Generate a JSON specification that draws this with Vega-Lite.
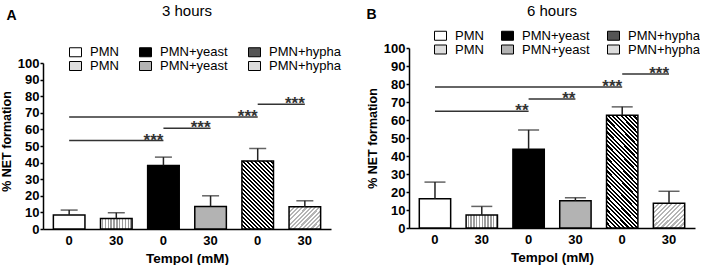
{
 "$schema": "https://vega.github.io/schema/vega-lite/v6.json",
 "padding": {"left": 0, "top": 3, "right": 0, "bottom": 0},
 "background": "white",
 "spacing": 24,
 "bounds": "full",
 "align": "none",
 "resolve": {"scale": {"fill": "independent"}, "legend": {"fill": "independent"}},
 "config": {
  "view": {"stroke": null},
  "font": "Liberation Sans",
  "axis": {"domainColor": "#000", "domainWidth": 1.5, "tickColor": "#000", "tickWidth": 1.5, "labelColor": "#000", "labelFont": "Liberation Sans", "labelFontWeight": "bold", "labelFontSize": 13, "labelOverlap": false, "titleColor": "#000", "titleFont": "Liberation Sans", "titleFontWeight": "bold", "grid": false},
  "legend": {"labelFont": "Liberation Sans", "labelFontSize": 13, "labelColor": "#000", "symbolStrokeColor": "#000", "symbolStrokeWidth": 1, "padding": 0, "rowPadding": -3}
 },
 "hconcat": [
  {
   "width": 288,
   "height": 181,
   "title": {"text": "3 hours", "fontSize": 15, "fontWeight": "normal", "anchor": "middle", "frame": "group", "offset": -11, "color": "#000", "font": "Liberation Sans"},
   "resolve": {"axis": {"x": "independent"}},
   "data": {"values": [
    {"k": "p0", "v": 8.4, "e": 11.4},
    {"k": "p30", "v": 6.4, "e": 9.8},
    {"k": "y0", "v": 38.3, "e": 43.3},
    {"k": "y30", "v": 13.6, "e": 20},
    {"k": "h0", "v": 40.9, "e": 48.5},
    {"k": "h30", "v": 13.4, "e": 17}
   ]},
   "layer": [
    {
     "mark": {"type": "bar", "stroke": "#000", "strokeWidth": 1.5},
     "encoding": {
      "x": {"field": "k", "type": "nominal", "sort": null, "scale": {"domain": ["p0", "p30", "y0", "y30", "h0", "h30"], "paddingInner": 0.33, "paddingOuter": 0.22}, "axis": {"orient": "bottom", "domain": true, "domainColor": "#000", "domainWidth": 1.5, "title": "Tempol (mM)", "labelExpr": "slice(datum.value,1)", "labelAngle": 0, "ticks": false, "tickSize": 0, "labelPadding": 5, "titleFontSize": 13.5, "titlePadding": 4}},
      "y": {"field": "v", "type": "quantitative", "scale": {"domain": [0, 100], "nice": false, "range": [181, 15]}, "axis": {"title": "% NET formation", "domain": true, "values": [0, 10, 20, 30, 40, 50, 60, 70, 80, 90, 100], "labelOverlap": false, "tickSize": 3, "labelPadding": 1, "titleFontSize": 12.5, "titleX": -30, "titleY": 93}},
      "fill": {
       "field": "k", "type": "nominal",
       "scale": {"domain": ["p0", "p30", "y0", "y30", "h0", "h30"], "range": ["#ffffff", "#dedede", "#000000", "#b3b3b3", "#555555", "#dcdcdc"]},
       "legend": {"orient": "none", "legendX": 26, "legendY": -2.5, "columns": 3, "title": null, "symbolType": "M-1,-0.75H1V0.75H-1Z", "symbolSize": 144, "symbolStrokeColor": "#000", "symbolStrokeWidth": 1, "labelOffset": 8, "columnPadding": 18, "rowPadding": -3,
        "labelExpr": "datum.value[0]==='p' ? 'PMN' : (datum.value[0]==='y' ? 'PMN+yeast' : 'PMN+hypha')"
       },
       "condition": [
        {"test": "datum.k==='h0'", "value": {"gradient": "linear", "x1": 0, "y1": 1, "x2": 0.567, "y2": -0.204, "stops": [{"offset":0.02,"color":"#000"},{"offset":0.02,"color":"#fff"},{"offset":0.04,"color":"#fff"},{"offset":0.04,"color":"#000"},{"offset":0.06,"color":"#000"},{"offset":0.06,"color":"#fff"},{"offset":0.08,"color":"#fff"},{"offset":0.08,"color":"#000"},{"offset":0.1,"color":"#000"},{"offset":0.1,"color":"#fff"},{"offset":0.12,"color":"#fff"},{"offset":0.12,"color":"#000"},{"offset":0.14,"color":"#000"},{"offset":0.14,"color":"#fff"},{"offset":0.16,"color":"#fff"},{"offset":0.16,"color":"#000"},{"offset":0.18,"color":"#000"},{"offset":0.18,"color":"#fff"},{"offset":0.2,"color":"#fff"},{"offset":0.2,"color":"#000"},{"offset":0.22,"color":"#000"},{"offset":0.22,"color":"#fff"},{"offset":0.24,"color":"#fff"},{"offset":0.24,"color":"#000"},{"offset":0.26,"color":"#000"},{"offset":0.26,"color":"#fff"},{"offset":0.28,"color":"#fff"},{"offset":0.28,"color":"#000"},{"offset":0.3,"color":"#000"},{"offset":0.3,"color":"#fff"},{"offset":0.32,"color":"#fff"},{"offset":0.32,"color":"#000"},{"offset":0.34,"color":"#000"},{"offset":0.34,"color":"#fff"},{"offset":0.36,"color":"#fff"},{"offset":0.36,"color":"#000"},{"offset":0.38,"color":"#000"},{"offset":0.38,"color":"#fff"},{"offset":0.4,"color":"#fff"},{"offset":0.4,"color":"#000"},{"offset":0.42,"color":"#000"},{"offset":0.42,"color":"#fff"},{"offset":0.44,"color":"#fff"},{"offset":0.44,"color":"#000"},{"offset":0.46,"color":"#000"},{"offset":0.46,"color":"#fff"},{"offset":0.48,"color":"#fff"},{"offset":0.48,"color":"#000"},{"offset":0.5,"color":"#000"},{"offset":0.5,"color":"#fff"},{"offset":0.52,"color":"#fff"},{"offset":0.52,"color":"#000"},{"offset":0.54,"color":"#000"},{"offset":0.54,"color":"#fff"},{"offset":0.56,"color":"#fff"},{"offset":0.56,"color":"#000"},{"offset":0.58,"color":"#000"},{"offset":0.58,"color":"#fff"},{"offset":0.6,"color":"#fff"},{"offset":0.6,"color":"#000"},{"offset":0.62,"color":"#000"},{"offset":0.62,"color":"#fff"},{"offset":0.64,"color":"#fff"},{"offset":0.64,"color":"#000"},{"offset":0.66,"color":"#000"},{"offset":0.66,"color":"#fff"},{"offset":0.68,"color":"#fff"},{"offset":0.68,"color":"#000"},{"offset":0.7,"color":"#000"},{"offset":0.7,"color":"#fff"},{"offset":0.72,"color":"#fff"},{"offset":0.72,"color":"#000"},{"offset":0.74,"color":"#000"},{"offset":0.74,"color":"#fff"},{"offset":0.76,"color":"#fff"},{"offset":0.76,"color":"#000"},{"offset":0.78,"color":"#000"},{"offset":0.78,"color":"#fff"},{"offset":0.8,"color":"#fff"},{"offset":0.8,"color":"#000"},{"offset":0.82,"color":"#000"},{"offset":0.82,"color":"#fff"},{"offset":0.84,"color":"#fff"},{"offset":0.84,"color":"#000"},{"offset":0.86,"color":"#000"},{"offset":0.86,"color":"#fff"},{"offset":0.88,"color":"#fff"},{"offset":0.88,"color":"#000"},{"offset":0.9,"color":"#000"},{"offset":0.9,"color":"#fff"},{"offset":0.92,"color":"#fff"},{"offset":0.92,"color":"#000"},{"offset":0.94,"color":"#000"},{"offset":0.94,"color":"#fff"},{"offset":0.96,"color":"#fff"},{"offset":0.96,"color":"#000"},{"offset":0.98,"color":"#000"},{"offset":0.98,"color":"#fff"}]}},
        {"test": "datum.k==='h30'", "value": {"gradient": "linear", "x1": 0, "y1": 0, "x2": 1.142, "y2": 0.796, "stops": [{"offset":0.04,"color":"#b5b5b5"},{"offset":0.04,"color":"#fff"},{"offset":0.08,"color":"#fff"},{"offset":0.08,"color":"#b5b5b5"},{"offset":0.12,"color":"#b5b5b5"},{"offset":0.12,"color":"#fff"},{"offset":0.16,"color":"#fff"},{"offset":0.16,"color":"#b5b5b5"},{"offset":0.2,"color":"#b5b5b5"},{"offset":0.2,"color":"#fff"},{"offset":0.24,"color":"#fff"},{"offset":0.24,"color":"#b5b5b5"},{"offset":0.28,"color":"#b5b5b5"},{"offset":0.28,"color":"#fff"},{"offset":0.32,"color":"#fff"},{"offset":0.32,"color":"#b5b5b5"},{"offset":0.36,"color":"#b5b5b5"},{"offset":0.36,"color":"#fff"},{"offset":0.4,"color":"#fff"},{"offset":0.4,"color":"#b5b5b5"},{"offset":0.44,"color":"#b5b5b5"},{"offset":0.44,"color":"#fff"},{"offset":0.48,"color":"#fff"},{"offset":0.48,"color":"#b5b5b5"},{"offset":0.52,"color":"#b5b5b5"},{"offset":0.52,"color":"#fff"},{"offset":0.56,"color":"#fff"},{"offset":0.56,"color":"#b5b5b5"},{"offset":0.6,"color":"#b5b5b5"},{"offset":0.6,"color":"#fff"},{"offset":0.64,"color":"#fff"},{"offset":0.64,"color":"#b5b5b5"},{"offset":0.68,"color":"#b5b5b5"},{"offset":0.68,"color":"#fff"},{"offset":0.72,"color":"#fff"},{"offset":0.72,"color":"#b5b5b5"},{"offset":0.76,"color":"#b5b5b5"},{"offset":0.76,"color":"#fff"},{"offset":0.8,"color":"#fff"},{"offset":0.8,"color":"#b5b5b5"},{"offset":0.84,"color":"#b5b5b5"},{"offset":0.84,"color":"#fff"},{"offset":0.88,"color":"#fff"},{"offset":0.88,"color":"#b5b5b5"},{"offset":0.92,"color":"#b5b5b5"},{"offset":0.92,"color":"#fff"},{"offset":0.96,"color":"#fff"},{"offset":0.96,"color":"#b5b5b5"}]}},
        {"test": "datum.k==='p30'", "value": {"gradient": "linear", "x1": 0, "y1": 0, "x2": 1, "y2": 0, "stops": [{"offset":0.045,"color":"#fff"},{"offset":0.045,"color":"#9e9e9e"},{"offset":0.09,"color":"#9e9e9e"},{"offset":0.09,"color":"#fff"},{"offset":0.135,"color":"#fff"},{"offset":0.135,"color":"#9e9e9e"},{"offset":0.18,"color":"#9e9e9e"},{"offset":0.18,"color":"#fff"},{"offset":0.225,"color":"#fff"},{"offset":0.225,"color":"#9e9e9e"},{"offset":0.27,"color":"#9e9e9e"},{"offset":0.27,"color":"#fff"},{"offset":0.315,"color":"#fff"},{"offset":0.315,"color":"#9e9e9e"},{"offset":0.36,"color":"#9e9e9e"},{"offset":0.36,"color":"#fff"},{"offset":0.405,"color":"#fff"},{"offset":0.405,"color":"#9e9e9e"},{"offset":0.45,"color":"#9e9e9e"},{"offset":0.45,"color":"#fff"},{"offset":0.495,"color":"#fff"},{"offset":0.495,"color":"#9e9e9e"},{"offset":0.54,"color":"#9e9e9e"},{"offset":0.54,"color":"#fff"},{"offset":0.585,"color":"#fff"},{"offset":0.585,"color":"#9e9e9e"},{"offset":0.63,"color":"#9e9e9e"},{"offset":0.63,"color":"#fff"},{"offset":0.675,"color":"#fff"},{"offset":0.675,"color":"#9e9e9e"},{"offset":0.72,"color":"#9e9e9e"},{"offset":0.72,"color":"#fff"},{"offset":0.765,"color":"#fff"},{"offset":0.765,"color":"#9e9e9e"},{"offset":0.81,"color":"#9e9e9e"},{"offset":0.81,"color":"#fff"},{"offset":0.855,"color":"#fff"},{"offset":0.855,"color":"#9e9e9e"},{"offset":0.9,"color":"#9e9e9e"},{"offset":0.9,"color":"#fff"},{"offset":0.945,"color":"#fff"},{"offset":0.945,"color":"#9e9e9e"},{"offset":0.99,"color":"#9e9e9e"},{"offset":0.99,"color":"#fff"}]}}
       ]
      }
     }
    },
    {
     "mark": {"type": "rule", "color": "#222", "strokeWidth": 1.5},
     "encoding": {
      "x": {"field": "k", "type": "nominal", "axis": {"orient": "top", "title": "A", "labels": false, "ticks": false, "domain": false, "titleFontSize": 14, "titleFontWeight": "bold", "titleX": -32, "titleY": -29, "titleAlign": "center", "titleBaseline": "alphabetic", "titleAngle": 0}},
      "y": {"field": "v", "type": "quantitative", "axis": {"title": "% NET formation", "domain": true, "values": [0, 10, 20, 30, 40, 50, 60, 70, 80, 90, 100], "labelOverlap": false, "tickSize": 3, "labelPadding": 1, "titleFontSize": 12.5, "titleX": -30, "titleY": 93}},
      "y2": {"field": "e"}
     }
    },
    {
     "mark": {"type": "tick", "color": "#222", "thickness": 1.5, "size": 17},
     "encoding": {
      "x": {"field": "k", "type": "nominal", "axis": null},
      "y": {"field": "e", "type": "quantitative", "axis": {"title": "% NET formation", "domain": true, "values": [0, 10, 20, 30, 40, 50, 60, 70, 80, 90, 100], "labelOverlap": false, "tickSize": 3, "labelPadding": 1, "titleFontSize": 12.5, "titleX": -30, "titleY": 93}}
     }
    },
    {
     "data": {"values": [
      {"from": "p0", "to": "y0", "lvl": 53.3, "stars": "***"},
      {"from": "y0", "to": "y30", "lvl": 60.7, "stars": "***"},
      {"from": "p0", "to": "h0", "lvl": 67.5, "stars": "***"},
      {"from": "h0", "to": "h30", "lvl": 75.2, "stars": "***"}
     ]},
     "mark": {"type": "rule", "color": "#333", "strokeWidth": 1.5},
     "encoding": {
      "x": {"field": "from", "type": "nominal", "axis": null},
      "x2": {"field": "to"},
      "y": {"field": "lvl", "type": "quantitative", "axis": {"title": "% NET formation", "domain": true, "values": [0, 10, 20, 30, 40, 50, 60, 70, 80, 90, 100], "labelOverlap": false, "tickSize": 3, "labelPadding": 1, "titleFontSize": 12.5, "titleX": -30, "titleY": 93}}
     }
    },
    {
     "data": {"values": [
      {"from": "p0", "to": "y0", "lvl": 53.3, "stars": "***"},
      {"from": "y0", "to": "y30", "lvl": 60.7, "stars": "***"},
      {"from": "p0", "to": "h0", "lvl": 67.5, "stars": "***"},
      {"from": "h0", "to": "h30", "lvl": 75.2, "stars": "***"}
     ]},
     "mark": {"type": "text", "align": "right", "baseline": "alphabetic", "dy": 5, "fontSize": 17, "fontWeight": "bold", "color": "#333"},
     "encoding": {
      "x": {"field": "to", "type": "nominal", "axis": null},
      "y": {"field": "lvl", "type": "quantitative", "axis": {"title": "% NET formation", "domain": true, "values": [0, 10, 20, 30, 40, 50, 60, 70, 80, 90, 100], "labelOverlap": false, "tickSize": 3, "labelPadding": 1, "titleFontSize": 12.5, "titleX": -30, "titleY": 93}},
      "text": {"field": "stars"}
     }
    }
   ]
  },
  {
   "width": 286,
   "height": 180,
   "title": {"text": "6 hours", "fontSize": 15, "fontWeight": "normal", "anchor": "middle", "frame": "group", "offset": -11, "color": "#000", "font": "Liberation Sans"},
   "resolve": {"axis": {"x": "independent"}},
   "data": {"values": [
    {"k": "p0", "v": 16.2, "e": 25.5},
    {"k": "p30", "v": 7.2, "e": 12},
    {"k": "y0", "v": 43.8, "e": 54.5},
    {"k": "y30", "v": 15.2, "e": 16.8},
    {"k": "h0", "v": 62.6, "e": 67.3},
    {"k": "h30", "v": 13.7, "e": 20.4}
   ]},
   "layer": [
    {
     "mark": {"type": "bar", "stroke": "#000", "strokeWidth": 1.5},
     "encoding": {
      "x": {"field": "k", "type": "nominal", "sort": null, "scale": {"domain": ["p0", "p30", "y0", "y30", "h0", "h30"], "paddingInner": 0.33, "paddingOuter": 0.22}, "axis": {"orient": "bottom", "domain": true, "domainColor": "#000", "domainWidth": 1.5, "title": "Tempol (mM)", "labelExpr": "slice(datum.value,1)", "labelAngle": 0, "ticks": false, "tickSize": 0, "labelPadding": 5, "titleFontSize": 13.5, "titlePadding": 4}},
      "y": {"field": "v", "type": "quantitative", "scale": {"domain": [0, 100], "nice": false}, "axis": {"title": "% NET formation", "domain": true, "values": [0, 10, 20, 30, 40, 50, 60, 70, 80, 90, 100], "labelOverlap": false, "tickSize": 3, "labelPadding": 1, "titleFontSize": 12.5, "titleX": -30}},
      "fill": {
       "field": "k", "type": "nominal",
       "scale": {"domain": ["p0", "p30", "y0", "y30", "h0", "h30"], "range": ["#ffffff", "#dedede", "#000000", "#b3b3b3", "#555555", "#dcdcdc"]},
       "legend": {"orient": "none", "legendX": 25, "legendY": -19, "columns": 3, "title": null, "symbolType": "M-1,-0.75H1V0.75H-1Z", "symbolSize": 144, "symbolStrokeColor": "#000", "symbolStrokeWidth": 1, "labelOffset": 8, "columnPadding": 15, "rowPadding": -2,
        "labelExpr": "datum.value[0]==='p' ? 'PMN' : (datum.value[0]==='y' ? 'PMN+yeast' : 'PMN+hypha')"
       },
       "condition": [
        {"test": "datum.k==='h0'", "value": {"gradient": "linear", "x1": 0, "y1": 1, "x2": 0.336, "y2": -0.188, "stops": [{"offset":0.015,"color":"#000"},{"offset":0.015,"color":"#fff"},{"offset":0.03,"color":"#fff"},{"offset":0.03,"color":"#000"},{"offset":0.045,"color":"#000"},{"offset":0.045,"color":"#fff"},{"offset":0.06,"color":"#fff"},{"offset":0.06,"color":"#000"},{"offset":0.075,"color":"#000"},{"offset":0.075,"color":"#fff"},{"offset":0.09,"color":"#fff"},{"offset":0.09,"color":"#000"},{"offset":0.105,"color":"#000"},{"offset":0.105,"color":"#fff"},{"offset":0.12,"color":"#fff"},{"offset":0.12,"color":"#000"},{"offset":0.135,"color":"#000"},{"offset":0.135,"color":"#fff"},{"offset":0.15,"color":"#fff"},{"offset":0.15,"color":"#000"},{"offset":0.165,"color":"#000"},{"offset":0.165,"color":"#fff"},{"offset":0.18,"color":"#fff"},{"offset":0.18,"color":"#000"},{"offset":0.195,"color":"#000"},{"offset":0.195,"color":"#fff"},{"offset":0.21,"color":"#fff"},{"offset":0.21,"color":"#000"},{"offset":0.225,"color":"#000"},{"offset":0.225,"color":"#fff"},{"offset":0.24,"color":"#fff"},{"offset":0.24,"color":"#000"},{"offset":0.255,"color":"#000"},{"offset":0.255,"color":"#fff"},{"offset":0.27,"color":"#fff"},{"offset":0.27,"color":"#000"},{"offset":0.285,"color":"#000"},{"offset":0.285,"color":"#fff"},{"offset":0.3,"color":"#fff"},{"offset":0.3,"color":"#000"},{"offset":0.315,"color":"#000"},{"offset":0.315,"color":"#fff"},{"offset":0.33,"color":"#fff"},{"offset":0.33,"color":"#000"},{"offset":0.345,"color":"#000"},{"offset":0.345,"color":"#fff"},{"offset":0.36,"color":"#fff"},{"offset":0.36,"color":"#000"},{"offset":0.375,"color":"#000"},{"offset":0.375,"color":"#fff"},{"offset":0.39,"color":"#fff"},{"offset":0.39,"color":"#000"},{"offset":0.405,"color":"#000"},{"offset":0.405,"color":"#fff"},{"offset":0.42,"color":"#fff"},{"offset":0.42,"color":"#000"},{"offset":0.435,"color":"#000"},{"offset":0.435,"color":"#fff"},{"offset":0.45,"color":"#fff"},{"offset":0.45,"color":"#000"},{"offset":0.465,"color":"#000"},{"offset":0.465,"color":"#fff"},{"offset":0.48,"color":"#fff"},{"offset":0.48,"color":"#000"},{"offset":0.495,"color":"#000"},{"offset":0.495,"color":"#fff"},{"offset":0.51,"color":"#fff"},{"offset":0.51,"color":"#000"},{"offset":0.525,"color":"#000"},{"offset":0.525,"color":"#fff"},{"offset":0.54,"color":"#fff"},{"offset":0.54,"color":"#000"},{"offset":0.555,"color":"#000"},{"offset":0.555,"color":"#fff"},{"offset":0.57,"color":"#fff"},{"offset":0.57,"color":"#000"},{"offset":0.585,"color":"#000"},{"offset":0.585,"color":"#fff"},{"offset":0.6,"color":"#fff"},{"offset":0.6,"color":"#000"},{"offset":0.615,"color":"#000"},{"offset":0.615,"color":"#fff"},{"offset":0.63,"color":"#fff"},{"offset":0.63,"color":"#000"},{"offset":0.645,"color":"#000"},{"offset":0.645,"color":"#fff"},{"offset":0.66,"color":"#fff"},{"offset":0.66,"color":"#000"},{"offset":0.675,"color":"#000"},{"offset":0.675,"color":"#fff"},{"offset":0.69,"color":"#fff"},{"offset":0.69,"color":"#000"},{"offset":0.705,"color":"#000"},{"offset":0.705,"color":"#fff"},{"offset":0.72,"color":"#fff"},{"offset":0.72,"color":"#000"},{"offset":0.735,"color":"#000"},{"offset":0.735,"color":"#fff"},{"offset":0.75,"color":"#fff"},{"offset":0.75,"color":"#000"},{"offset":0.765,"color":"#000"},{"offset":0.765,"color":"#fff"},{"offset":0.78,"color":"#fff"},{"offset":0.78,"color":"#000"},{"offset":0.795,"color":"#000"},{"offset":0.795,"color":"#fff"},{"offset":0.81,"color":"#fff"},{"offset":0.81,"color":"#000"},{"offset":0.825,"color":"#000"},{"offset":0.825,"color":"#fff"},{"offset":0.84,"color":"#fff"},{"offset":0.84,"color":"#000"},{"offset":0.855,"color":"#000"},{"offset":0.855,"color":"#fff"},{"offset":0.87,"color":"#fff"},{"offset":0.87,"color":"#000"},{"offset":0.885,"color":"#000"},{"offset":0.885,"color":"#fff"},{"offset":0.9,"color":"#fff"},{"offset":0.9,"color":"#000"},{"offset":0.915,"color":"#000"},{"offset":0.915,"color":"#fff"},{"offset":0.93,"color":"#fff"},{"offset":0.93,"color":"#000"},{"offset":0.945,"color":"#000"},{"offset":0.945,"color":"#fff"},{"offset":0.96,"color":"#fff"},{"offset":0.96,"color":"#000"},{"offset":0.975,"color":"#000"},{"offset":0.975,"color":"#fff"},{"offset":0.99,"color":"#fff"},{"offset":0.99,"color":"#000"}]}},
        {"test": "datum.k==='h30'", "value": {"gradient": "linear", "x1": 0, "y1": 0, "x2": 1.10, "y2": 0.872, "stops": [{"offset":0.04,"color":"#b5b5b5"},{"offset":0.04,"color":"#fff"},{"offset":0.08,"color":"#fff"},{"offset":0.08,"color":"#b5b5b5"},{"offset":0.12,"color":"#b5b5b5"},{"offset":0.12,"color":"#fff"},{"offset":0.16,"color":"#fff"},{"offset":0.16,"color":"#b5b5b5"},{"offset":0.2,"color":"#b5b5b5"},{"offset":0.2,"color":"#fff"},{"offset":0.24,"color":"#fff"},{"offset":0.24,"color":"#b5b5b5"},{"offset":0.28,"color":"#b5b5b5"},{"offset":0.28,"color":"#fff"},{"offset":0.32,"color":"#fff"},{"offset":0.32,"color":"#b5b5b5"},{"offset":0.36,"color":"#b5b5b5"},{"offset":0.36,"color":"#fff"},{"offset":0.4,"color":"#fff"},{"offset":0.4,"color":"#b5b5b5"},{"offset":0.44,"color":"#b5b5b5"},{"offset":0.44,"color":"#fff"},{"offset":0.48,"color":"#fff"},{"offset":0.48,"color":"#b5b5b5"},{"offset":0.52,"color":"#b5b5b5"},{"offset":0.52,"color":"#fff"},{"offset":0.56,"color":"#fff"},{"offset":0.56,"color":"#b5b5b5"},{"offset":0.6,"color":"#b5b5b5"},{"offset":0.6,"color":"#fff"},{"offset":0.64,"color":"#fff"},{"offset":0.64,"color":"#b5b5b5"},{"offset":0.68,"color":"#b5b5b5"},{"offset":0.68,"color":"#fff"},{"offset":0.72,"color":"#fff"},{"offset":0.72,"color":"#b5b5b5"},{"offset":0.76,"color":"#b5b5b5"},{"offset":0.76,"color":"#fff"},{"offset":0.8,"color":"#fff"},{"offset":0.8,"color":"#b5b5b5"},{"offset":0.84,"color":"#b5b5b5"},{"offset":0.84,"color":"#fff"},{"offset":0.88,"color":"#fff"},{"offset":0.88,"color":"#b5b5b5"},{"offset":0.92,"color":"#b5b5b5"},{"offset":0.92,"color":"#fff"},{"offset":0.96,"color":"#fff"},{"offset":0.96,"color":"#b5b5b5"}]}},
        {"test": "datum.k==='p30'", "value": {"gradient": "linear", "x1": 0, "y1": 0, "x2": 1, "y2": 0, "stops": [{"offset":0.045,"color":"#fff"},{"offset":0.045,"color":"#9e9e9e"},{"offset":0.09,"color":"#9e9e9e"},{"offset":0.09,"color":"#fff"},{"offset":0.135,"color":"#fff"},{"offset":0.135,"color":"#9e9e9e"},{"offset":0.18,"color":"#9e9e9e"},{"offset":0.18,"color":"#fff"},{"offset":0.225,"color":"#fff"},{"offset":0.225,"color":"#9e9e9e"},{"offset":0.27,"color":"#9e9e9e"},{"offset":0.27,"color":"#fff"},{"offset":0.315,"color":"#fff"},{"offset":0.315,"color":"#9e9e9e"},{"offset":0.36,"color":"#9e9e9e"},{"offset":0.36,"color":"#fff"},{"offset":0.405,"color":"#fff"},{"offset":0.405,"color":"#9e9e9e"},{"offset":0.45,"color":"#9e9e9e"},{"offset":0.45,"color":"#fff"},{"offset":0.495,"color":"#fff"},{"offset":0.495,"color":"#9e9e9e"},{"offset":0.54,"color":"#9e9e9e"},{"offset":0.54,"color":"#fff"},{"offset":0.585,"color":"#fff"},{"offset":0.585,"color":"#9e9e9e"},{"offset":0.63,"color":"#9e9e9e"},{"offset":0.63,"color":"#fff"},{"offset":0.675,"color":"#fff"},{"offset":0.675,"color":"#9e9e9e"},{"offset":0.72,"color":"#9e9e9e"},{"offset":0.72,"color":"#fff"},{"offset":0.765,"color":"#fff"},{"offset":0.765,"color":"#9e9e9e"},{"offset":0.81,"color":"#9e9e9e"},{"offset":0.81,"color":"#fff"},{"offset":0.855,"color":"#fff"},{"offset":0.855,"color":"#9e9e9e"},{"offset":0.9,"color":"#9e9e9e"},{"offset":0.9,"color":"#fff"},{"offset":0.945,"color":"#fff"},{"offset":0.945,"color":"#9e9e9e"},{"offset":0.99,"color":"#9e9e9e"},{"offset":0.99,"color":"#fff"}]}}
       ]
      }
     }
    },
    {
     "mark": {"type": "rule", "color": "#222", "strokeWidth": 1.5},
     "encoding": {
      "x": {"field": "k", "type": "nominal", "axis": {"orient": "top", "title": "B", "labels": false, "ticks": false, "domain": false, "titleFontSize": 14, "titleFontWeight": "bold", "titleX": -38, "titleY": -29.5, "titleAlign": "center", "titleBaseline": "alphabetic", "titleAngle": 0}},
      "y": {"field": "v", "type": "quantitative", "axis": {"title": "% NET formation", "domain": true, "values": [0, 10, 20, 30, 40, 50, 60, 70, 80, 90, 100], "labelOverlap": false, "tickSize": 3, "labelPadding": 1, "titleFontSize": 12.5, "titleX": -30}},
      "y2": {"field": "e"}
     }
    },
    {
     "mark": {"type": "tick", "color": "#222", "thickness": 1.5, "size": 21},
     "encoding": {
      "x": {"field": "k", "type": "nominal", "axis": null},
      "y": {"field": "e", "type": "quantitative", "axis": {"title": "% NET formation", "domain": true, "values": [0, 10, 20, 30, 40, 50, 60, 70, 80, 90, 100], "labelOverlap": false, "tickSize": 3, "labelPadding": 1, "titleFontSize": 12.5, "titleX": -30}}
     }
    },
    {
     "data": {"values": [
      {"from": "p0", "to": "y0", "lvl": 64.8, "stars": "**"},
      {"from": "y0", "to": "y30", "lvl": 71.6, "stars": "**"},
      {"from": "p0", "to": "h0", "lvl": 78.3, "stars": "***"},
      {"from": "h0", "to": "h30", "lvl": 85.5, "stars": "***"}
     ]},
     "mark": {"type": "rule", "color": "#333", "strokeWidth": 1.5},
     "encoding": {
      "x": {"field": "from", "type": "nominal", "axis": null},
      "x2": {"field": "to"},
      "y": {"field": "lvl", "type": "quantitative", "axis": {"title": "% NET formation", "domain": true, "values": [0, 10, 20, 30, 40, 50, 60, 70, 80, 90, 100], "labelOverlap": false, "tickSize": 3, "labelPadding": 1, "titleFontSize": 12.5, "titleX": -30}}
     }
    },
    {
     "data": {"values": [
      {"from": "p0", "to": "y0", "lvl": 64.8, "stars": "**"},
      {"from": "y0", "to": "y30", "lvl": 71.6, "stars": "**"},
      {"from": "p0", "to": "h0", "lvl": 78.3, "stars": "***"},
      {"from": "h0", "to": "h30", "lvl": 85.5, "stars": "***"}
     ]},
     "mark": {"type": "text", "align": "right", "baseline": "alphabetic", "dy": 5, "fontSize": 17, "fontWeight": "bold", "color": "#333"},
     "encoding": {
      "x": {"field": "to", "type": "nominal", "axis": null},
      "y": {"field": "lvl", "type": "quantitative", "axis": {"title": "% NET formation", "domain": true, "values": [0, 10, 20, 30, 40, 50, 60, 70, 80, 90, 100], "labelOverlap": false, "tickSize": 3, "labelPadding": 1, "titleFontSize": 12.5, "titleX": -30}},
      "text": {"field": "stars"}
     }
    }
   ]
  }
 ]
}
